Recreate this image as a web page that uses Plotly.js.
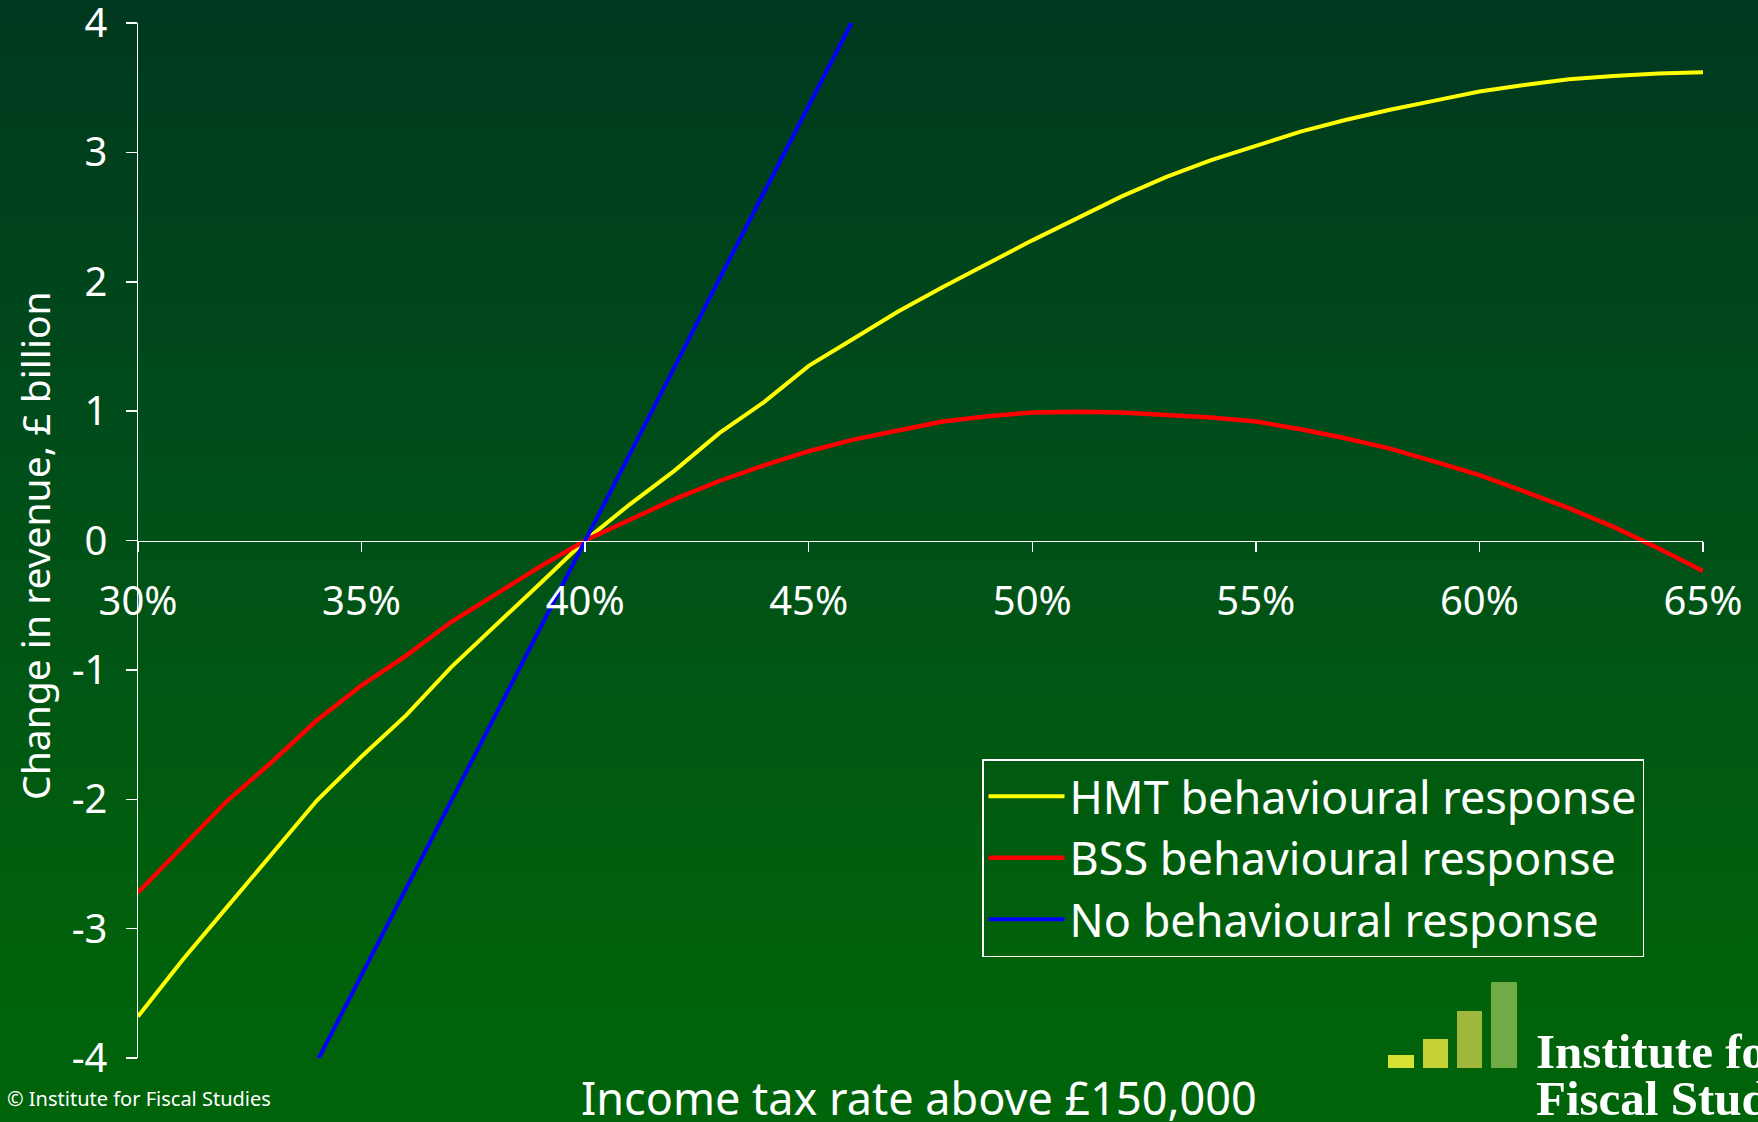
<!DOCTYPE html>
<html>
<head>
<meta charset="utf-8">
<script src="https://cdn.plot.ly/plotly-3.0.1.min.js"></script>
<style>
  html, body { margin: 0; padding: 0; overflow: hidden; }
  #chart {
    width: 1758px; height: 1122px;
    background: linear-gradient(to bottom, #00381f 0%, #004d1a 40%, #00610b 85%, #00640a 100%);
  }
</style>
</head>
<body>
<div id="chart"></div>
<script>
// ---- data ----
const taxRates = [30,31,32,33,34,35,36,37,38,39,40,41,42,43,44,45,46,47,48,49,50,51,52,53,54,55,56,57,58,59,60,61,62,63,64,65];
const hmtResponse = [-3.68,-3.24,-2.83,-2.42,-2.01,-1.67,-1.35,-0.98,-0.66,-0.33,0.00,0.28,0.54,0.83,1.07,1.35,1.56,1.77,1.96,2.14,2.32,2.49,2.66,2.81,2.94,3.05,3.16,3.25,3.33,3.40,3.47,3.52,3.565,3.59,3.61,3.62];
const bssResponse = [-2.72,-2.37,-2.01,-1.71,-1.39,-1.12,-0.89,-0.63,-0.41,-0.20,0.00,0.16,0.32,0.46,0.58,0.69,0.78,0.85,0.92,0.96,0.99,0.995,0.99,0.97,0.95,0.92,0.86,0.79,0.71,0.61,0.505,0.38,0.25,0.105,-0.06,-0.235];
const noRespRates = [34,35,36,37,38,39,40,41,42,43,44,45,46];
const noResponse = [-4.03,-3.36,-2.69,-2.02,-1.34,-0.67,0.00,0.67,1.34,2.02,2.69,3.36,4.03];

const seriesNames = ['HMT behavioural response','BSS behavioural response','No behavioural response'];
const xTickVals = [30,35,40,45,50,55,60,65];
const xTickText = ['30%','35%','40%','45%','50%','55%','60%','65%'];
const yTickVals = [-4,-3,-2,-1,0,1,2,3,4];
const yTickText = ['-4','-3','-2','-1','0','1','2','3','4'];
const xTitle = 'Income tax rate above £150,000';
const yTitle = 'Change in revenue, £ billion';
const credit = '© Institute for Fiscal Studies';
const logoLines = ['Institute for', 'Fiscal Studies'];

// ---- layout geometry ----
const W = 1758, H = 1122;
const L = 138, R = 55, T = 23, B = 64;
const PW = W - L - R, PH = H - T - B;
const fx = px => (px - L) / PW;
const fy = py => (H - B - py) / PH;
const FONT = '"Noto Sans", "Open Sans", sans-serif';

const traces = [
  {x: taxRates, y: hmtResponse, name: seriesNames[0], type: 'scatter', mode: 'lines',
   line: {color: '#ffff00', width: 4}},
  {x: taxRates, y: bssResponse, name: seriesNames[1], type: 'scatter', mode: 'lines',
   line: {color: '#ff0000', width: 4.5}},
  {x: noRespRates, y: noResponse, name: seriesNames[2], type: 'scatter', mode: 'lines',
   line: {color: '#0000ff', width: 4}}
];

const logoBars = [
  [1388, 1414, 1055, '#d6e231'],
  [1423, 1448, 1039, '#c4d236'],
  [1457, 1482, 1011, '#9fb83c'],
  [1491, 1517, 982, '#72aa45']
];
const shapes = logoBars.map(b => ({
  type: 'rect', xref: 'paper', yref: 'paper',
  x0: fx(b[0]), x1: fx(b[1]), y0: fy(1068), y1: fy(b[2]),
  fillcolor: b[3], line: {width: 0}, layer: 'above'
}));

const SERIF = '"Liberation Serif", "DejaVu Serif", serif';
const annotations = [
  {text: yTitle, xref: 'paper', yref: 'paper', x: fx(34), y: fy(546), textangle: -90,
   xanchor: 'center', yanchor: 'middle', showarrow: false,
   font: {family: FONT, size: 39, color: '#ffffff'}},
  {text: xTitle, xref: 'paper', yref: 'paper', x: fx(919), y: fy(1097),
   xanchor: 'center', yanchor: 'middle', showarrow: false,
   font: {family: FONT, size: 45, color: '#ffffff'}},
  {text: credit, xref: 'paper', yref: 'paper', x: fx(5), y: fy(1098),
   xanchor: 'left', yanchor: 'middle', showarrow: false,
   font: {family: FONT, size: 20, color: '#ffffff'}},
  {text: '<b>' + logoLines[0] + '</b>', xref: 'paper', yref: 'paper', x: fx(1534), y: fy(1051),
   xanchor: 'left', yanchor: 'middle', showarrow: false,
   font: {family: SERIF, size: 49, color: '#ffffff'}},
  {text: '<b>' + logoLines[1] + '</b>', xref: 'paper', yref: 'paper', x: fx(1534), y: fy(1098),
   xanchor: 'left', yanchor: 'middle', showarrow: false,
   font: {family: SERIF, size: 49, color: '#ffffff'}}
];

const layout = {
  width: W, height: H,
  margin: {l: L, r: R, t: T, b: B, autoexpand: false},
  paper_bgcolor: 'rgba(0,0,0,0)',
  plot_bgcolor: 'rgba(0,0,0,0)',
  font: {family: FONT, color: '#ffffff'},
  showlegend: true,
  legend: {
    x: fx(982), y: fy(759), xanchor: 'left', yanchor: 'top',
    bgcolor: 'rgba(0,0,0,0)', bordercolor: '#ffffff', borderwidth: 1.5,
    font: {family: FONT, size: 45, color: '#ffffff'},
    itemwidth: 76, traceorder: 'normal', entrywidth: 630
  },
  xaxis: {
    range: [30, 65], anchor: 'free', position: 0.5,
    tickvals: xTickVals, ticktext: xTickText,
    ticks: 'outside', ticklen: 10, tickwidth: 1.5, tickcolor: '#ffffff',
    showline: true, linecolor: '#ffffff', linewidth: 1.5,
    showgrid: false, zeroline: false,
    tickfont: {family: FONT, size: 40, color: '#ffffff'},
    ticklabelstandoff: 15, ticklabeloverflow: 'allow',
    fixedrange: true
  },
  yaxis: {
    range: [-4, 4],
    tickvals: yTickVals, ticktext: yTickText,
    ticks: 'outside', ticklen: 11, tickwidth: 1.5, tickcolor: '#ffffff',
    showline: true, linecolor: '#ffffff', linewidth: 1.5,
    showgrid: false, zeroline: false,
    tickfont: {family: FONT, size: 40, color: '#ffffff'},
    ticklabelstandoff: 10, ticklabeloverflow: 'allow',
    fixedrange: true
  },
  shapes: shapes,
  annotations: annotations
};

Plotly.newPlot('chart', traces, layout, {displayModeBar: false, staticPlot: true});
</script>
</body>
</html>
